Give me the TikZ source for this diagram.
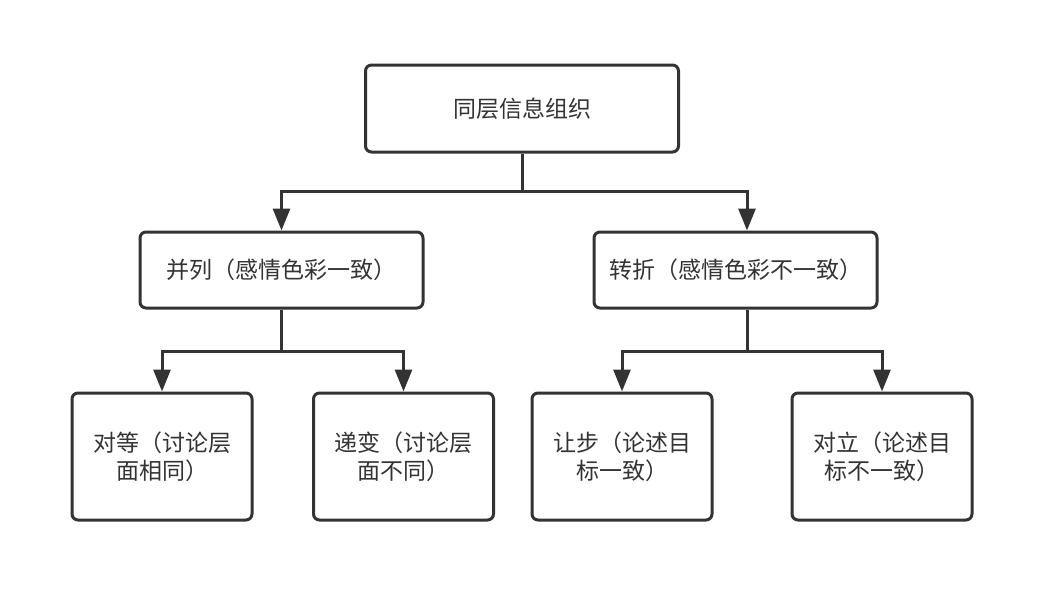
\documentclass[tikz,border=0pt]{standalone}
\usepackage{fontspec}
\usepackage{xcolor}
\usetikzlibrary{arrows.meta,positioning}
\newfontfamily\cjk{Noto Sans CJK SC}
\definecolor{ink}{HTML}{333333}

\begin{document}
\begin{tikzpicture}[
  x=1pt, y=-1pt, font=\cjk\fontsize{23}{28}\selectfont,
  box/.style={draw=ink,fill=white,rounded corners=6pt,line width=3pt,align=center,text=ink},
  topbox/.style={box,minimum width=313pt,minimum height=87pt},
  midbox/.style={box,minimum width=283pt,minimum height=76pt},
  leafbox/.style={box,minimum width=180pt,minimum height=127pt},
  ar/.style={-{Triangle[length=22pt,width=17pt]},ink,line width=3pt},
  ln/.style={ink,line width=3pt}
]
\useasboundingbox (0,0) rectangle (1052,598);
\node[topbox] (root) at (522,108.5) {同层信息组织};
\node[midbox] (para) at (281.5,270) {并列（感情色彩一致）};
\node[midbox] (turn) at (735.5,270) {转折（感情色彩不一致）};
\node[leafbox] (equal) at (162,456.5) {对等（讨论层\\面相同）};
\node[leafbox] (grad) at (403.5,456.5) {递变（讨论层\\面不同）};
\node[leafbox] (conc) at (622,456.5) {让步（论述目\\标一致）};
\node[leafbox] (oppo) at (882,456.5) {对立（论述目\\标不一致）};
% branch points
\coordinate (j0) at (522,191);
\coordinate (j1) at (281.5,351);
\coordinate (j2) at (747,351);
\draw[ln] (root.south) -- (j0);
\draw[ar] (j0) -| (para.north);
\draw[ar] (j0) -| ([xshift=11.5pt]turn.north);
\draw[ln] (para.south) -- (j1);
\draw[ar] (j1) -| (equal.north);
\draw[ar] (j1) -| (grad.north);
\draw[ln] ([xshift=11.5pt]turn.south) -- (j2);
\draw[ar] (j2) -| (conc.north);
\draw[ar] (j2) -| (oppo.north);
\end{tikzpicture}
\end{document}
